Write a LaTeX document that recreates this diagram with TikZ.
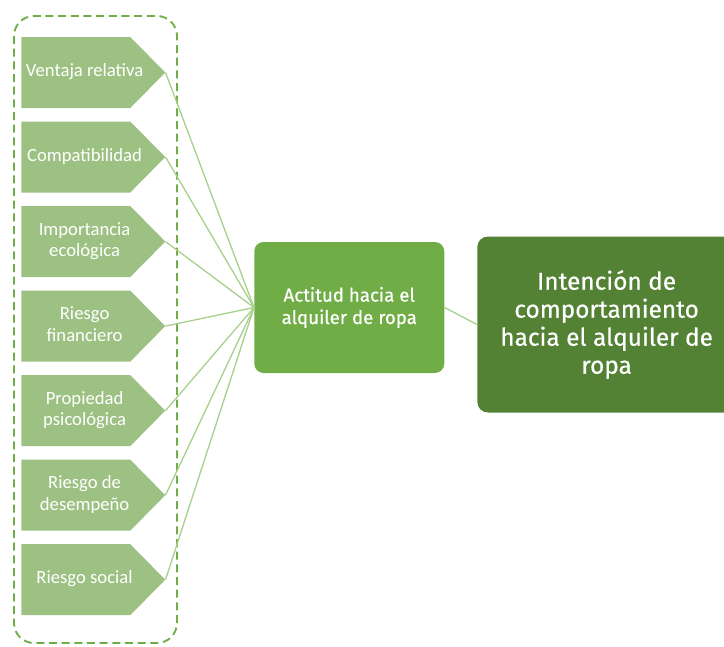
\documentclass[tikz,border=0pt]{standalone}
\usepackage{fontspec}
\setmainfont{Carlito}
\newfontfamily\dinfont[FakeBold=0.6]{Fira Sans}
\usetikzlibrary{positioning,calc}

\definecolor{lightgreen}{HTML}{9DC183}
\definecolor{midgreen}{HTML}{70AD47}
\definecolor{darkgreen}{HTML}{548235}
\definecolor{linkgreen}{HTML}{A9D18E}

% factor text, set a little to the left of the node centre
\newcommand{\ftext}[1]{\begin{tabular}{@{}c@{}}#1\end{tabular}\hspace*{13pt}}

\begin{document}
\begin{tikzpicture}[
    x=0.75pt, y=-0.75pt,
    node distance=9.75pt,
    factor/.style={rectangle, inner sep=0pt, text=white, minimum width=108pt, minimum height=53.25pt,
        font=\fontsize{14}{16}\selectfont,
        path picture={\fill[lightgreen] (path picture bounding box.north west) -- ++(81.75pt,0)
            -- (path picture bounding box.east)
            -- ($(path picture bounding box.south west)+(81.75pt,0)$)
            -- (path picture bounding box.south west) -- cycle;}},
    attitude/.style={rectangle, rounded corners=7pt, fill=midgreen, text=white, minimum width=142.5pt,
        minimum height=98.25pt, align=center, font=\dinfont\fontsize{14}{16.8}\selectfont},
    intention/.style={rectangle, rounded corners=8pt, fill=darkgreen, text=white, minimum width=194pt,
        minimum height=132pt, align=center, font=\dinfont\fontsize{18.3}{21}\selectfont},
    link/.style={draw=linkgreen, line width=1pt},
    groupbox/.style={draw=midgreen, line width=1.4pt, dash pattern=on 6pt off 3.5pt, rounded corners=15pt}
]
\useasboundingbox (0,0) rectangle (724,646);

% Group of factors (dashed)
\draw[groupbox] (14,16) rectangle (177,643);

% Factors (left column)
\node[factor, anchor=west] (ventaja) at (21,72.5) {\ftext{Ventaja relativa}};
\node[factor, below=of ventaja] (compat) {\ftext{Compatibilidad}};
\node[factor, below=of compat] (ecolog) {\ftext{Importancia\\ecológica}};
\node[factor, below=of ecolog] (finan) {\ftext{Riesgo\\financiero}};
\node[factor, below=of finan] (psico) {\ftext{Propiedad\\psicológica}};
\node[factor, below=of psico] (desemp) {\ftext{Riesgo de\\desempeño}};
\node[factor, below=of desemp] (social) {\ftext{Riesgo social}};

% Attitude and intention
\node[attitude, anchor=west] (actitud) at (254,307.5) {Actitud hacia el\\alquiler de ropa};
\node[intention, anchor=west] (intencion) at (477,324.5) {Intención de\\comportamiento\\hacia el alquiler de\\ropa};

% Links from factors to attitude
\draw[link] (ventaja.east) -- (actitud.west);
\draw[link] (compat.east) -- (actitud.west);
\draw[link] (ecolog.east) -- (actitud.west);
\draw[link] (finan.east) -- (actitud.west);
\draw[link] (psico.east) -- (actitud.west);
\draw[link] (desemp.east) -- (actitud.west);
\draw[link] (social.east) -- (actitud.west);

% Attitude to intention
\draw[link] (actitud.east) -- (intencion.west);

\end{tikzpicture}
\end{document}
